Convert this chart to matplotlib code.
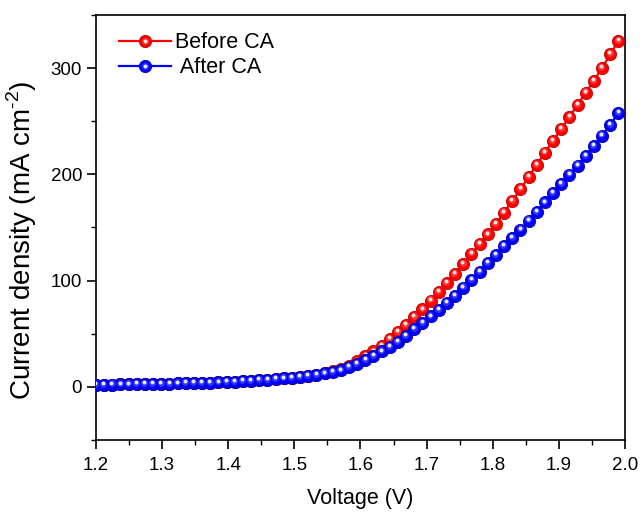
import numpy as np
import matplotlib
matplotlib.use("Agg")
import matplotlib.pyplot as plt
from matplotlib.lines import Line2D
from matplotlib.legend_handler import HandlerTuple
from matplotlib.ticker import MultipleLocator
import matplotlib.transforms as mtransforms

plt.rcParams['font.family'] = ['Liberation Sans', 'DejaVu Sans']
plt.rcParams['mathtext.fontset'] = 'custom'
plt.rcParams['mathtext.rm'] = 'Liberation Sans'

voltage = np.linspace(1.2, 1.99, 65)

before_ca = [2.0, 2.1, 2.2, 2.3, 2.4, 2.5, 2.6, 2.7, 2.9, 3.0,
             3.2, 3.4, 3.6, 3.8, 4.0, 4.3, 4.6, 4.9, 5.3, 5.7,
             6.2, 6.7, 7.3, 8.0, 8.7, 9.5, 10.5, 11.6, 12.8, 14.5,
             16.4, 19.8, 24.0, 28.8, 33.4, 38.6, 44.9, 51.6, 58.4, 65.8,
             73.0, 81.2, 89.2, 97.8, 106.4, 115.8, 125.5, 134.3, 143.4, 153.5,
             164.0, 175.0, 186.0, 197.5, 209.0, 220.5, 231.5, 242.5, 254.0, 265.5,
             277.0, 288.0, 300.3, 313.0, 325.5]

after_ca = [2.0, 2.1, 2.2, 2.3, 2.4, 2.5, 2.6, 2.7, 2.9, 3.0,
            3.2, 3.4, 3.6, 3.8, 4.0, 4.3, 4.6, 4.9, 5.3, 5.7,
            6.2, 6.7, 7.3, 8.0, 8.7, 9.5, 10.4, 11.4, 12.6, 14.0,
            15.5, 18.5, 21.6, 25.4, 29.4, 33.3, 37.8, 42.6, 48.2, 54.3,
            60.0, 66.3, 72.5, 79.0, 85.7, 93.5, 100.8, 108.2, 116.4, 124.4,
            132.6, 140.4, 148.0, 156.5, 164.8, 173.5, 182.5, 191.0, 199.8, 208.3,
            217.3, 226.7, 236.5, 246.5, 257.5]

series = [
    ("Before CA", before_ca, "#ff0000", "#c00000", "#ff4a4a", "#ffe6e6"),
    (" After CA", after_ca, "#0000ff", "#0000b0", "#4a4aff", "#e8e8ff"),
]

fig = plt.figure(figsize=(6.44, 5.2), dpi=100)
ax = fig.add_axes([0.149, 0.1538, 0.8215, 0.8175])

mid_trans = mtransforms.offset_copy(ax.transData, fig=fig, x=-0.5, y=0.8, units='points')
hl_trans = mtransforms.offset_copy(ax.transData, fig=fig, x=-0.6, y=1.3, units='points')

MS = 8.8
handles = []
for label, vals, col, edge, mid, hl in series:
    ln, = ax.plot(voltage, vals, '-o', color=col, lw=1.6, ms=MS,
                  mfc=col, mec=edge, mew=0.6, zorder=3)
    ax.plot(voltage, vals, 'o', ms=5.0, mfc=mid, mec='none', alpha=0.7,
            transform=mid_trans, zorder=3)
    ax.plot(voltage, vals, 'o', ms=2.8, mfc=hl, mec='none',
            transform=hl_trans, zorder=3)
    mid_h = Line2D([], [], marker='o', ls='none', ms=5.0, mfc=mid, mec='none', alpha=0.7)
    hl_h = Line2D([], [], marker='o', ls='none', ms=2.8, mfc=hl, mec='none')
    handles.append(((ln, mid_h, hl_h), label))

leg = ax.legend([h for h, _ in handles], [l for _, l in handles],
                handler_map={tuple: HandlerTuple(ndivide=1)},
                loc='upper left', frameon=False, fontsize=15.5,
                handlelength=2.4, handletextpad=0.2, labelspacing=0.2,
                borderaxespad=0.0, bbox_to_anchor=(0.028, 0.98))

ax.set_xlim(1.2, 2.0)
ax.set_ylim(-50, 350)
ax.xaxis.set_minor_locator(MultipleLocator(0.05))
ax.yaxis.set_major_locator(MultipleLocator(100))
ax.yaxis.set_minor_locator(MultipleLocator(50))
ax.set_xticks(np.round(np.arange(1.2, 2.001, 0.1), 1))
ax.set_xticklabels(["1.2", "1.3", "1.4", "1.5", "1.6", "1.7", "1.8", "1.9", "2.0"])

ax.tick_params(which='major', direction='out', length=6.5, width=1.2, labelsize=13.5)
ax.tick_params(axis='x', which='major', pad=6)
ax.tick_params(which='minor', direction='out', length=3.5, width=1.0)
for s in ax.spines.values():
    s.set_linewidth(1.2)

ax.set_xlabel("Voltage (V)", fontsize=15.5, labelpad=10)
ax.set_ylabel("Current density (mA cm$^{\\mathregular{\u2010}2}$)", fontsize=20, labelpad=3)
ax.yaxis.set_label_coords(-0.108, 0.47)

fig.savefig("out.png", dpi=100)
